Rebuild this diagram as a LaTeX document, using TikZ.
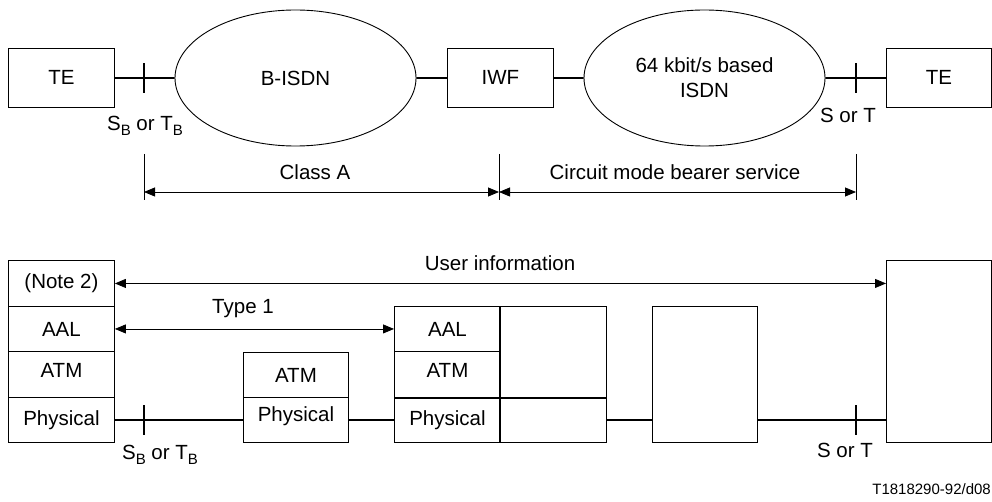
\documentclass[tikz,border=0pt]{standalone}
\usepackage{fontspec}
\setmainfont{Liberation Sans}
\usetikzlibrary{shapes.geometric,arrows.meta}
\newcommand{\mysub}[1]{\raisebox{-0.45ex}{\fontsize{15}{15}\selectfont #1}}
\begin{document}
\begin{tikzpicture}[x=1pt,y=-1pt,
  every node/.style={font=\fontsize{20.5}{25}\selectfont, inner sep=0pt},
  box/.style={draw, line width=0.9pt, rectangle, anchor=north west},
  oval/.style={draw, line width=0.9pt, ellipse, minimum width=241pt, minimum height=136pt, align=center},
  conn/.style={line width=1.8pt},
  tickmark/.style={line width=1.8pt},
  dimline/.style={line width=0.8pt},
  dimarrow/.style={line width=0.8pt, {Triangle[length=11pt,width=9pt]}-{Triangle[length=11pt,width=9pt]}},
  lbl/.style={font=\fontsize{20.5}{25}\selectfont}
]
\useasboundingbox (0,0) rectangle (992,502);

% ---------- top row ----------
\node[box, minimum width=106pt, minimum height=59pt] (te1) at (8,48) {};
\node at (te1.center) {TE};
\node[oval] (bisdn) at (295.5,78) {B-ISDN};
\node[box, minimum width=106pt, minimum height=59pt] (iwf) at (447,48) {};
\node at (iwf.center) {IWF};
\node[oval] (isdn) at (704.5,78) {64 kbit/s based\\ISDN};
\node[box, minimum width=105pt, minimum height=59pt] (te2) at (886,48) {};
\node at (te2.center) {TE};

\draw[conn] (te1.east) -- (bisdn.west);
\draw[conn] (bisdn.east) -- (iwf.west);
\draw[conn] (iwf.east) -- (isdn.west);
\draw[conn] (isdn.east) -- (te2.west);

\coordinate (t1) at (144,78);
\coordinate (t2) at (856,78);
\draw[tickmark] ([yshift=-15pt]t1) -- ([yshift=15pt]t1);
\draw[tickmark] ([yshift=-15pt]t2) -- ([yshift=15pt]t2);
\node[lbl] (sbtb1) at (145,126) {S\mysub{B} or T\mysub{B}};
\node[lbl] (sort1) at (848,115) {S or T};

% dimension lines
\coordinate (d1) at (144,192);
\coordinate (d2) at (499,192);
\coordinate (d3) at (856,192);
\draw[dimline] (144,154) -- (144,200);
\draw[dimline] (499,154) -- (499,200);
\draw[dimline] (856,154) -- (856,200);
\draw[dimarrow] (d1) -- (d2);
\draw[dimarrow] (d2) -- (d3);
\node[lbl] (classa) at (315,172) {Class A};
\node[lbl] (cmbs) at (675,172) {Circuit mode bearer service};

% ---------- bottom row ----------
% left stack
\node[box, minimum width=106pt, minimum height=46pt] (n2) at (8,260) {};
\node at (n2.center) {(Note 2)};
\node[box, minimum width=106pt, minimum height=45pt] (aal1) at (8,306) {};
\node at (aal1.center) {AAL};
\node[box, minimum width=106pt, minimum height=46pt] (atm1) at (8,351) {};
\node at ([yshift=4pt]atm1.center) {ATM};
\node[box, minimum width=106pt, minimum height=45pt] (phy1) at (8,397) {};
\node at (phy1.center) {Physical};

% middle small box
\node[box, minimum width=105pt, minimum height=45pt] (atm2) at (243,352) {};
\node at (atm2.center) {ATM};
\node[box, minimum width=105pt, minimum height=45pt] (phy2) at (243,397) {};
\node at ([yshift=4pt]phy2.center) {Physical};

% third stack
\node[box, minimum width=106pt, minimum height=45pt] (aal3) at (394,306) {};
\node at (aal3.center) {AAL};
\node[box, minimum width=106pt, minimum height=46pt] (atm3) at (394,351) {};
\node at ([yshift=4pt]atm3.center) {ATM};
\node[box, minimum width=106pt, minimum height=45pt] (phy3) at (394,397) {};
\node at (phy3.center) {Physical};
\node[box, minimum width=106pt, minimum height=91pt] (r3top) at (500,306) {};
\node[box, minimum width=106pt, minimum height=45pt] (r3bot) at (500,397) {};
\draw[line width=1.8pt] (r3top.north west) -- (r3bot.south west);
\draw[line width=1.8pt] (atm3.south west) -- (r3top.south east);

% box 4
\node[box, minimum width=105pt, minimum height=136pt] (b4) at (652,306) {};
% right box
\node[box, minimum width=105pt, minimum height=182pt] (rb) at (886,260) {};

% arrows
\draw[dimarrow] (n2.east) -- (n2.east -| rb.west);
\node[lbl] (uinfo) at (500,263) {User information};
\draw[dimarrow] (aal1.east) -- (aal3.west);
\node[lbl] (type1) at (243,309) {Type 1};

% connectors at physical level
\draw[conn] (phy1.east) -- (phy2.west);
\draw[conn] (phy2.east) -- (phy3.west);
\draw[conn] (r3bot.east) -- (r3bot.east -| b4.west);
\draw[conn] (b4.east |- r3bot.east) -- (r3bot.east -| rb.west);

\coordinate (t3) at (144,419.5);
\coordinate (t4) at (856,419.5);
\draw[tickmark] ([yshift=-15pt]t3) -- ([yshift=15pt]t3);
\draw[tickmark] ([yshift=-15pt]t4) -- ([yshift=15pt]t4);
\node[lbl] (sbtb2) at (160,455) {S\mysub{B} or T\mysub{B}};
\node[lbl] (sort2) at (845,450) {S or T};

\node[font=\fontsize{15}{18}\selectfont, anchor=east] (code) at (991,489) {T1818290-92/d08};
\end{tikzpicture}
\end{document}
